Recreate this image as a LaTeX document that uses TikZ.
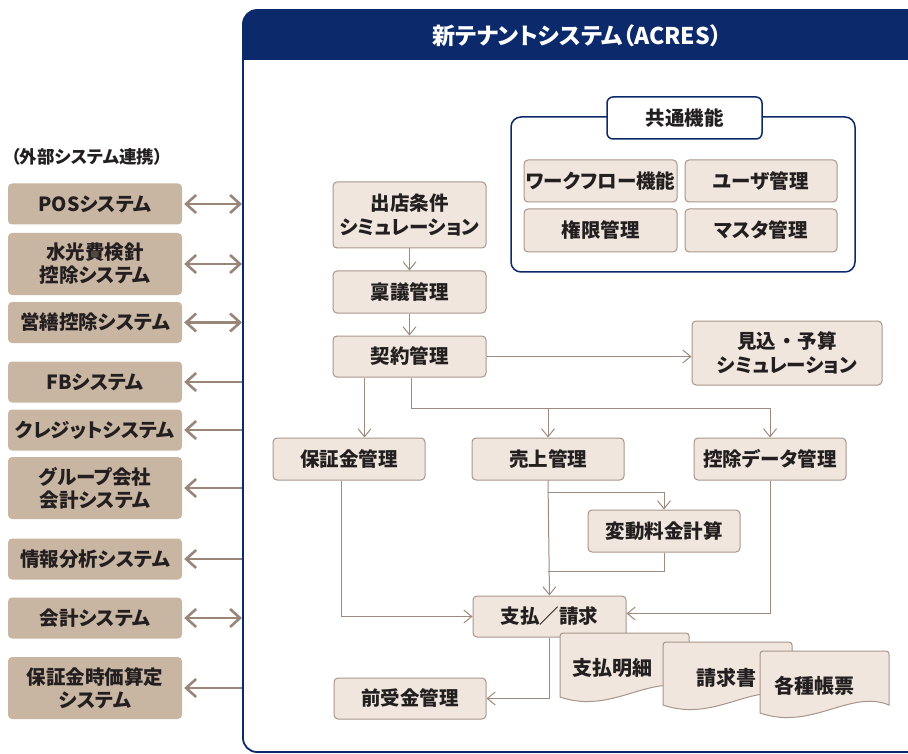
\documentclass[tikz,border=0pt]{standalone}
\usepackage{fontspec}
\setmainfont{Noto Sans CJK JP}[RawFeature=+palt]
\usetikzlibrary{arrows.meta,calc}
\definecolor{navy}{HTML}{0C2A6B}
\definecolor{tanc}{HTML}{C8B5A2}
\definecolor{boxfill}{HTML}{F0E6DD}
\definecolor{boxline}{HTML}{A8958A}
\definecolor{lnc}{HTML}{9E8A7E}
\definecolor{arrc}{HTML}{9A8579}
\definecolor{txt}{HTML}{231F20}
\tikzset{
  extbox/.style={fill=tanc, rounded corners=4pt, minimum width=174pt, minimum height=41pt, inner sep=0pt, align=center, text=txt, font=\bfseries\fontsize{19.5}{23}\selectfont},
  flowbox/.style={fill=boxfill, draw=boxline, line width=1pt, rounded corners=4pt, minimum width=153pt, minimum height=42pt, inner sep=0pt, align=center, text=txt, font=\bfseries\fontsize{19.5}{24}\selectfont},
  flow/.style={draw=lnc, line width=1pt, -{Straight Barb[length=8pt,width=13pt]}},
  plainline/.style={draw=lnc, line width=1pt},
  extboth/.style={draw=arrc, line width=2.6pt, {Straight Barb[length=10pt,width=18pt]}-{Straight Barb[length=10pt,width=18pt]}},
  extleft/.style={draw=arrc, line width=2.6pt, {Straight Barb[length=10pt,width=18pt]}-},
  docshape/.style={fill=boxfill, draw=boxline, line width=1pt},
  doctext/.style={text=txt, font=\bfseries\fontsize{20}{23}\selectfont, inner sep=0pt},
}
\begin{document}
\begin{tikzpicture}[x=1pt,y=-1pt]
\useasboundingbox (0,0) rectangle (908,754);
\begin{scope}
\clip (0,0) rectangle (908,754);
\fill[navy] (243,60) [rounded corners=14pt] -- (243,10) -- (950,10) [sharp corners] -- (950,60) -- cycle;
\draw[navy, line width=1.8pt, rounded corners=14pt] (243,10) rectangle (950,752);
\end{scope}
\node[text=white, font=\bfseries\fontsize{23}{26}\selectfont, inner sep=0pt] (title) at (577,36) {新テナントシステム（ACRES）};
\coordinate (fl) at (242,0);

% external systems
\node[text=txt, font=\bfseries\fontsize{17.5}{20}\selectfont, inner sep=0pt, anchor=west] (extlabel) at (11,157) {（外部システム連携）};
\node[extbox] (pos) at (95,204) {POSシステム};
\node[extbox, minimum height=62pt] (suiko) at (95,264) {水光費検針\\控除システム};
\node[extbox] (eizen) at (95,322.5) {営繕控除システム};
\node[extbox] (fb) at (95,382) {FBシステム};
\node[extbox] (credit) at (95,430) {クレジットシステム};
\node[extbox, minimum height=62pt] (group) at (95,488) {グループ会社\\会計システム};
\node[extbox] (joho) at (95,559) {情報分析システム};
\node[extbox] (kaikei) at (95,618) {会計システム};
\node[extbox, minimum height=62pt] (jika) at (95,688) {保証金時価算定\\システム};

\draw[extboth] ($(pos.east)+(2,0)$) -- (pos.east -| fl);
\draw[extboth] ($(suiko.east)+(2,0)$) -- (suiko.east -| fl);
\draw[extboth] ($(eizen.east)+(2,0)$) -- (eizen.east -| fl);
\draw[extleft] ($(fb.east)+(2,0)$) -- (fb.east -| fl);
\draw[extleft] ($(credit.east)+(2,0)$) -- (credit.east -| fl);
\draw[extleft] ($(group.east)+(2,0)$) -- (group.east -| fl);
\draw[extleft] ($(joho.east)+(2,0)$) -- (joho.east -| fl);
\draw[extboth] ($(kaikei.east)+(2,0)$) -- (kaikei.east -| fl);
\draw[extleft] ($(jika.east)+(2,0)$) -- (jika.east -| fl);

% common functions
\node[draw=navy, line width=1.5pt, rounded corners=10pt, fill=white, minimum width=344pt, minimum height=155pt] (common) at (683,194.5) {};
\node[draw=navy, line width=1.5pt, rounded corners=6pt, fill=white, minimum width=155pt, minimum height=42pt, inner sep=0pt, text=txt, font=\bfseries\fontsize{19.5}{23}\selectfont] (commontitle) at (684.5,118) {共通機能};
\node[flowbox, minimum width=153pt] (wf) at (600.5,181) {ワークフロー機能};
\node[flowbox, minimum width=152pt] (user) at (761,181) {ユーザ管理};
\node[flowbox, minimum width=153pt, minimum height=43pt] (kengen) at (600.5,230.5) {権限管理};
\node[flowbox, minimum width=152pt, minimum height=43pt] (master) at (761,230.5) {マスタ管理};

% flow
\node[flowbox, minimum height=66pt] (shutten) at (409.5,215) {出店条件\\シミュレーション};
\node[flowbox] (ringi) at (409.5,292) {稟議管理};
\node[flowbox, minimum height=41pt] (keiyaku) at (409.5,356.5) {契約管理};
\node[flowbox, minimum width=190pt, minimum height=64pt] (mikomi) at (787,353) {見込\hspace{0.3em}・\hspace{0.3em}予算\\シミュレーション};
\node[flowbox, minimum width=152pt] (hoshokin) at (349,459) {保証金管理};
\node[flowbox, minimum width=152pt] (uriage) at (548,459) {売上管理};
\node[flowbox, minimum width=152pt] (kojo) at (770,459) {控除データ管理};
\node[flowbox, minimum width=152pt] (hendo) at (664,531) {変動料金計算};
\node[flowbox, minimum height=41pt] (shiharai) at (549.5,616.5) {支払／請求};
\node[flowbox, minimum width=152pt, minimum height=41pt] (maeuke) at (410,698.5) {前受金管理};

\draw[flow] (shutten) -- (ringi);
\draw[flow] (ringi) -- (keiyaku);
\draw[flow] (keiyaku.east) -- (keiyaku.east -| mikomi.west);
\draw[flow] ($(keiyaku.south west)+(32,0)$) coordinate (k1) -- (k1 |- hoshokin.north);
\draw[flow] ($(keiyaku.south)+(2,0)$) -- ++(0,31) coordinate (bus) -| (kojo.north);
\draw[flow] (bus -| uriage.north) -- (uriage.north);
\draw[flow] ($(hoshokin.south west)+(69,0)$) |- (shiharai.west);
\draw[flow] (kojo.south) |- ($(shiharai.east)+(0,-3)$);
\draw[flow] (uriage.south) -- (shiharai.north);
\draw[flow] ($(uriage.south)+(0,12)$) -| (hendo.north);
\draw[plainline] (hendo.south) |- ($(uriage.south)+(0,91)$);
\draw[flow] (shiharai.south) |- (maeuke.east);

% documents
\path[docshape] (560,697) [rounded corners=3pt] -- (560,633) -- (689,633) [sharp corners] -- (689,689) .. controls (650,673) and (612,715) .. (560,697) -- cycle;
\node[doctext] (meisai) at (612,668) {支払明細};
\path[docshape] (663,705) [rounded corners=3pt] -- (663,642) -- (792,642) [sharp corners] -- (792,697) .. controls (753,681) and (715,723) .. (663,705) -- cycle;
\node[doctext] (seikyusho) at (726,678) {請求書};
\path[docshape] (760,713) [rounded corners=3pt] -- (760,651) -- (889,651) [sharp corners] -- (889,705) .. controls (850,689) and (812,731) .. (760,713) -- cycle;
\node[doctext] (chohyo) at (814,686) {各種帳票};
\end{tikzpicture}
\end{document}
